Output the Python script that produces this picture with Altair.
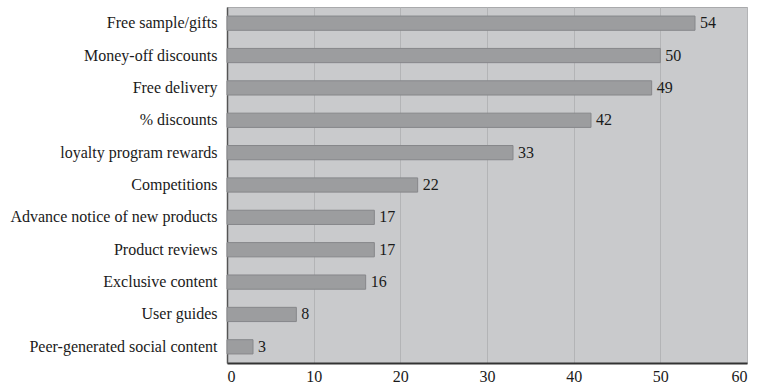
import altair as alt
import pandas as pd

categories = [
    "Free sample/gifts",
    "Money-off discounts",
    "Free delivery",
    "% discounts",
    "loyalty program rewards",
    "Competitions",
    "Advance notice of new products",
    "Product reviews",
    "Exclusive content",
    "User guides",
    "Peer-generated social content",
]
values = [54, 50, 49, 42, 33, 22, 17, 17, 16, 8, 3]
x_ticks = [0, 10, 20, 30, 40, 50, 60]

df = pd.DataFrame({"category": categories, "value": values})

FONT = "'Times New Roman', 'Liberation Serif', Times, serif"
FS = 16

y_enc = alt.Y(
    "category:N",
    sort=categories,
    scale=alt.Scale(paddingInner=0.56, paddingOuter=0.28),
    axis=alt.Axis(
        title=None,
        ticks=False,
        labelPadding=10,
        labelLimit=400,
        labelFont=FONT,
        labelFontSize=FS,
        labelColor="#1a1a1a",
        domainColor="#555555",
        domainWidth=1.5,
    ),
)
x_enc = alt.X(
    "value:Q",
    scale=alt.Scale(domain=[0, 60], nice=False),
    axis=alt.Axis(
        title=None,
        values=x_ticks,
        ticks=False,
        labelPadding=5,
        labelFont=FONT,
        labelFontSize=FS,
        labelColor="#1a1a1a",
        grid=True,
        gridColor="#b3b4b6",
        gridWidth=1,
        domainColor="#333333",
        domainWidth=2,
    ),
)

bars = alt.Chart(df).mark_bar(
    color="#9c9d9f", stroke="#86878a", strokeWidth=1
).encode(x=x_enc, y=y_enc)

labels = alt.Chart(df).mark_text(
    align="left", baseline="middle", dx=5, font=FONT, fontSize=FS, color="#1a1a1a"
).encode(x="value:Q", y=alt.Y("category:N", sort=categories), text="value:Q")

chart = (
    alt.layer(bars, labels)
    .properties(
        width=520,
        height=356,
        autosize=alt.AutoSizeParams(type="none"),
        padding={"left": 227, "top": 7, "right": 15, "bottom": 24},
        background="white",
    )
    .configure_view(fill="#c9cacc", stroke="#a9aaac", strokeWidth=1)
)

chart.save("out.html", embed_options={"renderer": "svg", "actions": False})
